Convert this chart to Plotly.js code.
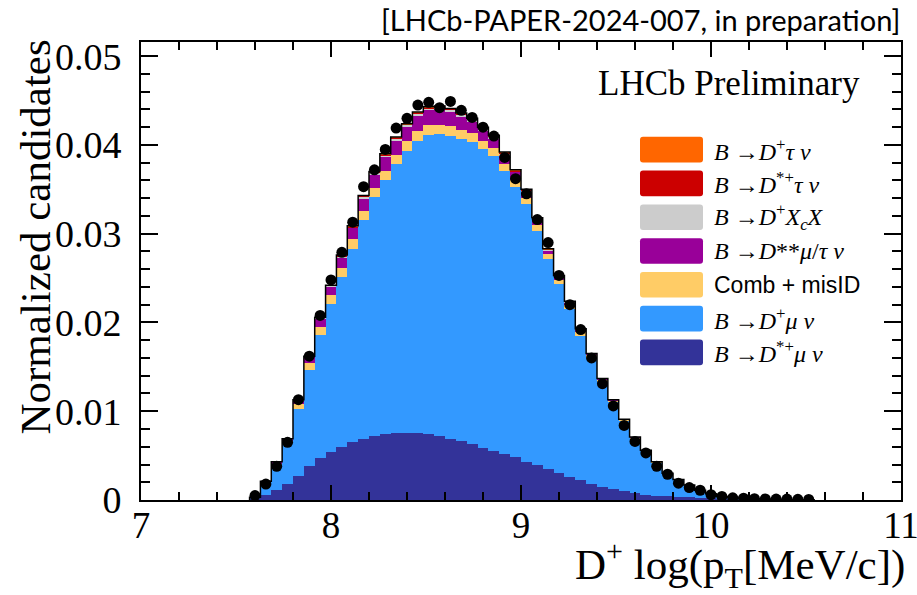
<!DOCTYPE html>
<html>
<head>
<meta charset="utf-8">
<script src="https://cdn.plot.ly/plotly-3.0.1.min.js"></script>
<style>html,body{margin:0;padding:0;background:#fff;}#chart{width:917px;height:595px;}</style>
</head>
<body>
<div id="chart"></div>
<script>
// Binning: 70 bins on [7, 11]; arrays below start at bin index 10
const binLow = 7, binHigh = 11, nBins = 70, firstBin = 10;

// B -> D*+ mu nu (dark blue, bottom of stack)
const dstarMuNu = [0.0001,0.0006,0.0011,0.0018,0.0027,0.0038,0.0047,0.0054,0.0060,0.0065,
  0.0069,0.0072,0.0074,0.0076,0.0076,0.0076,0.0074,0.0072,0.0069,0.0066,
  0.0063,0.0059,0.0055,0.0052,0.0048,0.0043,0.0039,0.0035,0.0030,0.0026,
  0.0022,0.0018,0.0015,0.0012,0.0010,0.0008,0.0006,0.0005,0.0004,0.0003,
  0.0003,0.0002,0.0002,0.0001,0.0001,0.00005,0.00005,0,0,0,0,0];
// B -> D+ mu nu (light blue)
const dplusMuNu = [0.0002,0.0013,0.0028,0.0047,0.0076,0.0109,0.0139,0.0167,0.0191,0.0218,
  0.0246,0.0269,0.0286,0.0302,0.0317,0.0329,0.0337,0.0340,0.0341,0.0341,
  0.0340,0.0336,0.0333,0.0319,0.0305,0.0290,0.0264,0.0236,0.0213,0.0189,
  0.0163,0.0142,0.0118,0.0098,0.0079,0.0061,0.0049,0.0037,0.0025,0.0020,
  0.0014,0.0009,0.0005,0.0003,0.0002,0.00015,0.0001,0.0001,0.00008,0.00005,0.00004,0.00003];
// Comb + misID (yellow)
const combMisID = [0,0.0001,0.0002,0.0002,0.0005,0.0007,0.0009,0.0010,0.0010,0.0011,
  0.0011,0.0011,0.0011,0.0011,0.0011,0.0011,0.0011,0.0011,0.0011,0.0010,
  0.0010,0.0009,0.0009,0.0008,0.0008,0.0007,0.0007,0.0006,0.0005,0.0005,
  0.0004,0.0003,0.0002,0.0002,0.0001,0.0001,0.0001,0.0001,0.0001,0,
  0,0,0,0,0,0,0,0,0,0,0,0];
// B -> D** mu/tau nu (purple)
const dstarstarMuTau = [0,0.0001,0.0002,0.0002,0.0004,0.0007,0.0009,0.0009,0.0012,0.0012,
  0.0013,0.0014,0.0015,0.0016,0.0016,0.0017,0.0017,0.0017,0.0016,0.0015,
  0.0013,0.0012,0.0010,0.0009,0.0008,0.0007,0.0005,0.0004,0.0003,0.0002,
  0.0002,0.0001,0.0001,0.0001,0.0001,0.0001,0,0,0,0,
  0,0,0,0,0,0,0,0,0,0,0,0];
// B -> D+ Xc X (grey)
const dplusXcX = [0,0,0,0,0.0001,0.0001,0.0001,0.0001,0.0001,0.0001,
  0.0002,0.0002,0.0002,0.0002,0.0002,0.0002,0.0002,0.0002,0.0002,0.0002,
  0.0002,0.0002,0.0002,0.0002,0.0001,0.0001,0.0001,0.0001,0.0001,0.0001,
  0.0001,0.0001,0.0001,0,0,0,0,0,0,0,
  0,0,0,0,0,0,0,0,0,0,0,0];
// B -> D*+ tau nu (red)
const dstarTauNu = [0,0,0,0,0,0,0,0,0.0001,0.0001,
  0.0001,0.0001,0.0001,0.0001,0.0001,0.0001,0.0001,0.0001,0.0001,0.0001,
  0.0001,0.0001,0.0001,0.0001,0.0001,0.0001,0.0001,0,0,0,
  0,0,0,0,0,0,0,0,0,0,
  0,0,0,0,0,0,0,0,0,0,0,0];
// B -> D+ tau nu (orange)
const dplusTauNu = [0,0,0,0,0,0,0.0001,0.0001,0.0001,0.0001,
  0.0001,0.0001,0.0001,0.0001,0.0001,0.0001,0.0001,0.0001,0.0001,0.0001,
  0.0001,0.0001,0.0001,0.0001,0.0001,0.0001,0.0001,0.0001,0.0001,0.0001,
  0.0001,0,0,0,0,0,0,0,0,0,
  0,0,0,0,0,0,0,0,0,0,0,0];
// Data points
const dataPoints = [0.0005,0.0018,0.0038,0.0065,0.0113,0.0162,0.0208,0.0248,0.0279,0.0313,
  0.0353,0.0372,0.0395,0.0419,0.0430,0.0445,0.0448,0.0442,0.0449,0.0439,
  0.0431,0.0420,0.0410,0.0386,0.0362,0.0345,0.0316,0.0290,0.0253,0.0220,
  0.0192,0.0160,0.0131,0.0106,0.0084,0.0066,0.0053,0.0038,0.0029,0.0019,
  0.0014,0.0011,0.0006,0.0004,0.00025,0.0002,0.00015,0.00012,0.0001,0.0001,0.00008,0.00006];

const xTicks = [7, 8, 9, 10, 11];
const yTicks = [0, 0.01, 0.02, 0.03, 0.04, 0.05];
const yTickText = ['0', '0.01', '0.02', '0.03', '0.04', '0.05'];

const components = [
  {name: 'B→D*+μν', y: dstarMuNu, color: '#333399', label: '<i>B</i> →<i>D</i><sup>*+</sup><i>μ ν</i>'},
  {name: 'B→D+μν', y: dplusMuNu, color: '#3399FF', label: '<i>B</i> →<i>D</i><sup>+</sup><i>μ ν</i>'},
  {name: 'Comb + misID', y: combMisID, color: '#FFCC66', label: 'Comb + misID', sans: true},
  {name: 'B→D**μ/τν', y: dstarstarMuTau, color: '#990099', label: '<i>B</i> →<i>D</i>**<i>μ</i>/<i>τ ν</i>'},
  {name: 'B→D+XcX', y: dplusXcX, color: '#CCCCCC', label: '<i>B</i> →<i>D</i><sup>+</sup><i>X</i><sub><i>c</i></sub><i>X</i>'},
  {name: 'B→D*+τν', y: dstarTauNu, color: '#CC0000', label: '<i>B</i> →<i>D</i><sup>*+</sup><i>τ ν</i>'},
  {name: 'B→D+τν', y: dplusTauNu, color: '#FF6600', label: '<i>B</i> →<i>D</i><sup>+</sup><i>τ ν</i>'}
];

const bw = (binHigh - binLow) / nBins;
const n = dataPoints.length;
const centers = dataPoints.map((_, i) => binLow + (firstBin + i + 0.5) * bw);
const lowEdges = dataPoints.map((_, i) => binLow + (firstBin + i) * bw);
const totals = dataPoints.map((_, i) => components.reduce((s, c) => s + c.y[i], 0));

const traces = components.map(c => ({
  type: 'bar', x: centers, y: c.y, width: bw, name: c.name,
  marker: {color: c.color, line: {width: 0}}, showlegend: false, hoverinfo: 'skip'
}));

// total outline (step)
const stepX = [lowEdges[0]].concat(lowEdges.slice(1), [lowEdges[n - 1] + bw, lowEdges[n - 1] + bw]);
const stepY = [0].concat(totals, [0]);
traces.push({type: 'scatter', mode: 'lines', x: stepX, y: stepY, line: {shape: 'vh', color: '#000', width: 1.5}, showlegend: false, hoverinfo: 'skip'});

traces.push({type: 'scatter', mode: 'markers', x: centers, y: dataPoints,
  marker: {color: '#000', size: 11}, showlegend: false, hoverinfo: 'skip'});

const L = 141, R = 901, T = 42, B = 500;
const W = R - L, H = B - T;
const px = x => (x - L) / W;
const py = y => (B - y) / H;

const shapes = [];
const annotations = [];
// custom legend (top to bottom: reverse stack order)
const legendOrder = components.slice().reverse();
legendOrder.forEach((c, i) => {
  const yc = 149.6 + i * 33.8;
  const x0 = px(640), x1 = px(703), y0 = py(yc + 12.8), y1 = py(yc - 12.8);
  const rx = 3 / W, ry = 3 / H;
  shapes.push({type: 'path', xref: 'paper', yref: 'paper', fillcolor: c.color, line: {width: 0},
    path: `M ${x0 + rx},${y0} L ${x1 - rx},${y0} Q ${x1},${y0} ${x1},${y0 + ry} L ${x1},${y1 - ry} Q ${x1},${y1} ${x1 - rx},${y1} L ${x0 + rx},${y1} Q ${x0},${y1} ${x0},${y1 - ry} L ${x0},${y0 + ry} Q ${x0},${y0} ${x0 + rx},${y0} Z`});
  annotations.push({xref: 'paper', yref: 'paper', x: px(712), y: py(yc), xanchor: 'left', yanchor: 'middle',
    text: c.label, showarrow: false,
    font: {family: c.sans ? 'Liberation Sans' : 'Liberation Serif', size: c.sans ? 23 : 24, color: '#000'}});
});

annotations.push({xref: 'paper', yref: 'paper', x: px(862), y: py(83), xanchor: 'right', yanchor: 'middle',
  text: 'LHCb Preliminary', showarrow: false, font: {family: 'Liberation Serif', size: 35, color: '#000'}});
annotations.push({xref: 'paper', yref: 'paper', x: px(902), y: py(19), xanchor: 'right', yanchor: 'middle',
  text: '[LHCb-PAPER-2024-007, in preparation]', showarrow: false, font: {family: 'Lato', size: 29, color: '#000'}});
annotations.push({xref: 'paper', yref: 'paper', x: px(907), y: py(564), xanchor: 'right', yanchor: 'middle',
  text: 'D<sup>+</sup> log(p<sub>T</sub>[MeV/c])', showarrow: false, font: {family: 'Liberation Serif', size: 43, color: '#000'}});
annotations.push({xref: 'paper', yref: 'paper', x: px(35), y: py(38), xanchor: 'center', yanchor: 'top', textangle: -90,
  text: 'Normalized candidates', showarrow: false, font: {family: 'Liberation Serif', size: 43, color: '#000'}});

const layout = {
  width: 917, height: 595,
  margin: {l: L, r: 917 - R, t: T, b: 595 - B, pad: 0},
  paper_bgcolor: '#fff', plot_bgcolor: '#fff',
  barmode: 'stack', bargap: 0,
  font: {family: 'Liberation Serif', color: '#000'},
  xaxis: {range: [binLow, binHigh], tickvals: xTicks, ticks: 'inside', ticklen: 15, tickwidth: 2, tickcolor: '#000',
    showline: true, linewidth: 2, linecolor: '#000', mirror: 'allticks', showgrid: false, zeroline: false,
    tickfont: {family: 'Liberation Serif', size: 37, color: '#000'}, ticklabelstandoff: -8, ticklabeloverflow: 'allow',
    minor: {dtick: 0.2, ticks: 'inside', ticklen: 8, tickwidth: 2, tickcolor: '#000', showgrid: false}},
  yaxis: {range: [0, 0.0516], tickvals: yTicks, ticktext: yTickText, ticks: 'inside', ticklen: 17, tickwidth: 2, tickcolor: '#000',
    showline: true, linewidth: 2, linecolor: '#000', mirror: 'allticks', showgrid: false, zeroline: false,
    tickfont: {family: 'Liberation Serif', size: 38, color: '#000'}, ticklabelstandoff: 10, ticklabeloverflow: 'allow',
    minor: {dtick: 0.002, ticks: 'inside', ticklen: 9, tickwidth: 2, tickcolor: '#000', showgrid: false}},
  shapes: shapes,
  annotations: annotations,
  showlegend: false
};

Plotly.newPlot('chart', traces, layout, {staticPlot: true, displayModeBar: false});
</script>
</body>
</html>
